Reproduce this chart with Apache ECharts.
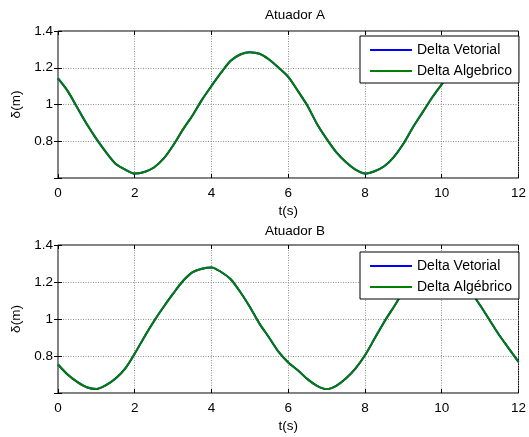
<!DOCTYPE html>
<html>
<head>
<meta charset="utf-8">
<script src="https://cdn.jsdelivr.net/npm/echarts@6/dist/echarts.min.js"></script>
<style>
  html, body { margin: 0; padding: 0; background: #fff; }
  #chart { width: 529px; height: 437px; }
</style>
</head>
<body>
<div id="chart"></div>
<script>
// Time samples (s), every 0.25 s
const time = [
  0, 0.25, 0.5, 0.75, 1, 1.25, 1.5, 1.75, 2, 2.25, 2.5, 2.75, 3, 3.25, 3.5, 3.75,
  4, 4.25, 4.5, 4.75, 5, 5.25, 5.5, 5.75, 6, 6.25, 6.5, 6.75, 7, 7.25, 7.5, 7.75,
  8, 8.25, 8.5, 8.75, 9, 9.25, 9.5, 9.75, 10, 10.25, 10.5, 10.75, 11, 11.25, 11.5, 11.75, 12
];

// Actuator A displacement (m)
const deltaVetorialA = [
  1.142, 1.074, 0.984, 0.894, 0.813, 0.741, 0.678, 0.646, 0.624, 0.633, 0.657, 0.705, 0.777, 0.862, 0.939, 1.025,
  1.101, 1.173, 1.238, 1.272, 1.285, 1.276, 1.245, 1.200, 1.150, 1.074, 0.993, 0.894, 0.813, 0.741, 0.687, 0.646,
  0.624, 0.637, 0.664, 0.714, 0.786, 0.876, 0.957, 1.038, 1.110, 1.180, 1.240, 1.272, 1.285, 1.276, 1.245, 1.200, 1.146
];
const deltaAlgebricoA = [
  1.142, 1.074, 0.984, 0.894, 0.813, 0.741, 0.678, 0.646, 0.624, 0.633, 0.657, 0.705, 0.777, 0.862, 0.939, 1.025,
  1.101, 1.173, 1.238, 1.272, 1.285, 1.276, 1.245, 1.200, 1.150, 1.074, 0.993, 0.894, 0.813, 0.741, 0.687, 0.646,
  0.624, 0.637, 0.664, 0.714, 0.786, 0.876, 0.957, 1.038, 1.110, 1.180, 1.240, 1.272, 1.285, 1.276, 1.245, 1.200, 1.146
];

// Actuator B displacement (m)
const deltaVetorialB = [
  0.754, 0.700, 0.660, 0.631, 0.621, 0.642, 0.678, 0.732, 0.813, 0.903, 0.988, 1.065, 1.137, 1.204, 1.252, 1.272,
  1.279, 1.254, 1.215, 1.146, 1.065, 0.975, 0.900, 0.822, 0.765, 0.723, 0.675, 0.639, 0.621, 0.639, 0.678, 0.732,
  0.804, 0.894, 0.984, 1.065, 1.146, 1.204, 1.254, 1.272, 1.279, 1.254, 1.215, 1.150, 1.074, 0.993, 0.912, 0.840, 0.768
];
const deltaAlgebricoB = [
  0.754, 0.700, 0.660, 0.631, 0.621, 0.642, 0.678, 0.732, 0.813, 0.903, 0.988, 1.065, 1.137, 1.204, 1.252, 1.272,
  1.279, 1.254, 1.215, 1.146, 1.065, 0.975, 0.900, 0.822, 0.765, 0.723, 0.675, 0.639, 0.621, 0.639, 0.678, 0.732,
  0.804, 0.894, 0.984, 1.065, 1.146, 1.204, 1.254, 1.272, 1.279, 1.254, 1.215, 1.150, 1.074, 0.993, 0.912, 0.840, 0.768
];

const xTicks = [0, 2, 4, 6, 8, 10, 12];
const yTicks = [0.8, 1, 1.2, 1.4];

const FONT = 'Liberation Sans';
const pairs = (xs, ys) => xs.map((x, i) => [x, ys[i]]);

function xAxes(gridIndex) {
  const common = {
    type: 'value', gridIndex, min: 0, max: 12, interval: 2,
    axisLine: { show: false },
    axisTick: { show: true, inside: true, length: 4, lineStyle: { color: '#000' } }
  };
  return [
    Object.assign({}, common, {
      position: 'bottom',
      name: 't(s)', nameLocation: 'middle', nameGap: 26,
      nameTextStyle: { color: '#000', fontSize: 13.5, fontFamily: FONT },
      axisLabel: { color: '#000', fontSize: 13.5, fontFamily: FONT, margin: 8,
        formatter: v => xTicks.includes(v) ? String(v) : '' },
      splitLine: { show: true, lineStyle: { color: '#909090', type: [1, 1.5], width: 1 } }
    }),
    Object.assign({}, common, {
      position: 'top',
      axisLabel: { show: false },
      splitLine: { show: false }
    })
  ];
}

function yAxes(gridIndex) {
  const common = {
    type: 'value', gridIndex, min: 0.6, max: 1.4, interval: 0.2,
    axisLine: { show: false },
    axisTick: { show: true, inside: true, length: 4, lineStyle: { color: '#000' } }
  };
  return [
    Object.assign({}, common, {
      position: 'left',
      name: 'δ(m)', nameLocation: 'middle', nameGap: 33, nameRotate: 90,
      nameTextStyle: { color: '#000', fontSize: 13.5, fontFamily: FONT },
      axisLabel: { color: '#000', fontSize: 13.5, fontFamily: FONT, margin: 5,
        formatter: v => {
          const r = Math.round(v * 10) / 10;
          return yTicks.includes(r) ? String(r) : '';
        } },
      splitLine: { show: true, lineStyle: { color: '#909090', type: [1, 1.5], width: 1 } }
    }),
    Object.assign({}, common, {
      position: 'right',
      axisLabel: { show: false },
      splitLine: { show: false }
    })
  ];
}

function lineSeries(name, data, color, axisIdx) {
  return {
    name, type: 'line', data,
    xAxisIndex: axisIdx, yAxisIndex: axisIdx,
    smooth: 0.3, symbol: 'none', animation: false,
    lineStyle: { color, width: 2 },
    itemStyle: { color }
  };
}

// Boxed legend in the upper-right corner of each plot; the tiny item height
// keeps the key a plain line sample.
function legend(top, labels) {
  return {
    orient: 'vertical', left: 360, top,
    data: labels,
    itemWidth: 42, itemHeight: 2, itemGap: 7,
    padding: [7, 7, 5, 9],
    borderColor: '#000', borderWidth: 1, borderRadius: 0,
    backgroundColor: '#fff',
    textStyle: { color: '#000', fontSize: 14, fontFamily: FONT },
    selectedMode: false
  };
}

const chart = echarts.init(document.getElementById('chart'), null, { renderer: 'canvas' });
chart.setOption({
  backgroundColor: '#fff',
  animation: false,
  title: [
    { text: 'Atuador A', left: 290, top: 3, textAlign: 'center',
      textStyle: { color: '#000', fontSize: 13.5, fontWeight: 'normal', fontFamily: FONT } },
    { text: 'Atuador B', left: 290, top: 219, textAlign: 'center',
      textStyle: { color: '#000', fontSize: 13.5, fontWeight: 'normal', fontFamily: FONT } }
  ],
  grid: [
    { left: 58, top: 31, width: 464, height: 147, show: true, borderColor: '#000', borderWidth: 1, backgroundColor: 'transparent' },
    { left: 58, top: 245, width: 464, height: 148, show: true, borderColor: '#000', borderWidth: 1, backgroundColor: 'transparent' }
  ],
  xAxis: [...xAxes(0), ...xAxes(1)],
  yAxis: [...yAxes(0), ...yAxes(1)],
  legend: [
    legend(36, ['Delta Vetorial', 'Delta Algebrico']),
    legend(252, ['Delta Vetorial', 'Delta Algébrico'])
  ],
  series: [
    lineSeries('Delta Vetorial', pairs(time, deltaVetorialA), '#0000ff', 0),
    lineSeries('Delta Algebrico', pairs(time, deltaAlgebricoA), '#007f00', 0),
    lineSeries('Delta Vetorial', pairs(time, deltaVetorialB), '#0000ff', 2),
    lineSeries('Delta Algébrico', pairs(time, deltaAlgebricoB), '#007f00', 2)
  ]
});
</script>
</body>
</html>
